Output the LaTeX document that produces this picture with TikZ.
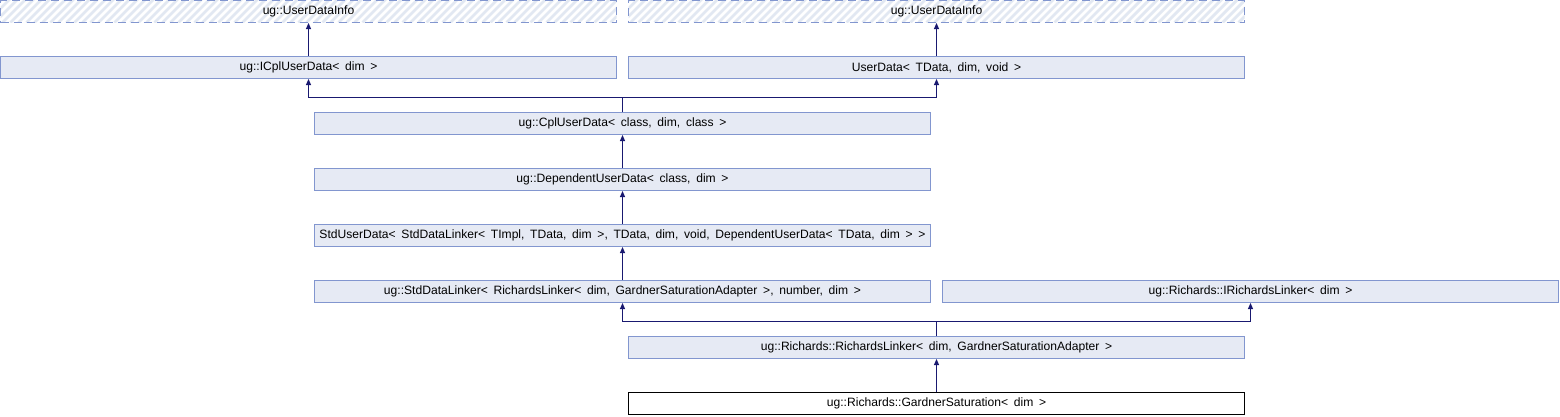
\documentclass[tikz,border=0pt]{standalone}
\usepackage{fontspec}
\setmainfont{Liberation Sans}
\usetikzlibrary{arrows.meta}
\definecolor{boxfill}{HTML}{E6EAF4}
\definecolor{boxdraw}{HTML}{8296CF}
\definecolor{hatchc}{HTML}{E2E8F2}
\definecolor{edgec}{HTML}{191970}
\newcommand{\clsfont}{\fontsize{12.1}{14}\selectfont\spaceskip=5.7pt\relax}
\tikzset{
  cls/.style={draw=boxdraw, fill=boxfill, line width=1pt, minimum width=616pt, minimum height=22pt,
    inner sep=0pt, font=\clsfont, text=black},
  curcls/.style={cls, draw=black, fill=white},
  extcls/.style={cls, fill=white, dash pattern=on 8pt off 5pt,
    path picture={\foreach \k in {0,...,82}
      \draw[hatchc, line width=2.8pt, solid] ([xshift=\k*8pt-30pt]path picture bounding box.south west) -- ++(30pt,30pt);}},
  edge/.style={draw=edgec, line width=1pt, -{Triangle[length=6pt,width=5pt]}}
}
\begin{document}
\begin{tikzpicture}[x=1pt,y=-1pt]
\useasboundingbox (0,0) rectangle (1560,416);
\node[extcls] (udi1) at (308.5,11.5) {ug::UserDataInfo};
\node[extcls] (udi2) at (936.5,11.5) {ug::UserDataInfo};
\node[cls] (icpl) at (308.5,67.5) {ug::ICplUserData< dim >};
\node[cls] (ud) at (936.5,67.5) {UserData< TData, dim, void >};
\node[cls] (cpl) at (622.5,123.5) {ug::CplUserData< class, dim, class >};
\node[cls] (dep) at (622.5,179.5) {ug::DependentUserData< class, dim >};
\node[cls] (std) at (622.5,235.5) {StdUserData< StdDataLinker< TImpl, TData, dim >, TData, dim, void, DependentUserData< TData, dim > >};
\node[cls] (sdl) at (622.5,291.5) {ug::StdDataLinker< RichardsLinker< dim, GardnerSaturationAdapter >, number, dim >};
\node[cls] (irl) at (1250.5,291.5) {ug::Richards::IRichardsLinker< dim >};
\node[cls] (rl) at (936.5,347.5) {ug::Richards::RichardsLinker< dim, GardnerSaturationAdapter >};
\node[curcls] (gs) at (936.5,403.5) {ug::Richards::GardnerSaturation< dim >};
\coordinate (j1) at (622.5,97);
\coordinate (j2) at (936.5,321);
\draw[edge] (icpl.north) -- (udi1.south);
\draw[edge] (ud.north) -- (udi2.south);
\draw[edge] (cpl.north) -- (j1) -| (icpl.south);
\draw[edge] (cpl.north) -- (j1) -| (ud.south);
\draw[edge] (dep.north) -- (cpl.south);
\draw[edge] (std.north) -- (dep.south);
\draw[edge] (sdl.north) -- (std.south);
\draw[edge] (rl.north) -- (j2) -| (sdl.south);
\draw[edge] (rl.north) -- (j2) -| (irl.south);
\draw[edge] (gs.north) -- (rl.south);
\end{tikzpicture}
\end{document}
